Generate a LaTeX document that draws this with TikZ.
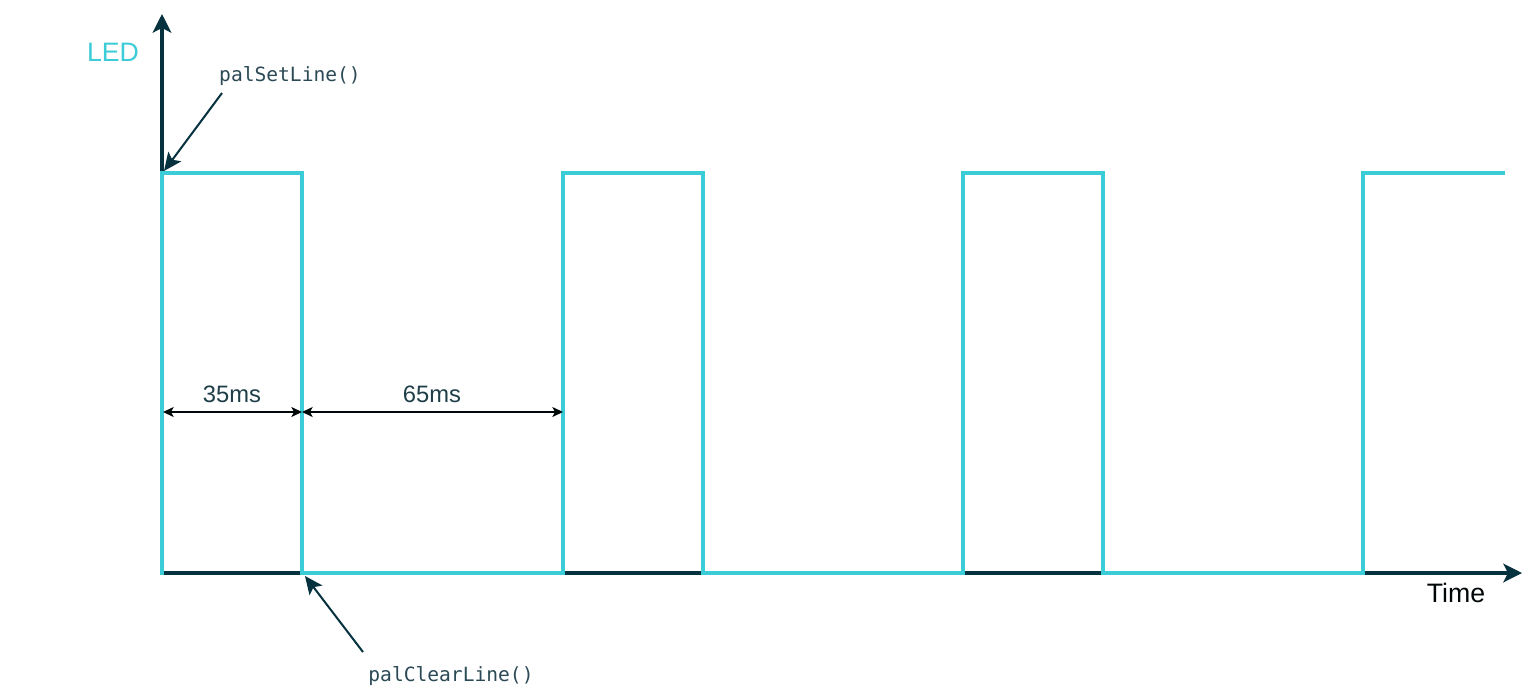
\documentclass[tikz,border=0pt]{standalone}
\usepackage{fontspec}
\setmainfont{Liberation Sans}
\newfontfamily\codefont{DejaVu Sans Mono}
\usetikzlibrary{arrows.meta}
\definecolor{sig}{HTML}{3CCCD8}
\definecolor{axisc}{HTML}{06323F}
\definecolor{txt}{HTML}{1E3E48}
\definecolor{codec}{HTML}{2C4A55}
\tikzset{
  axisline/.style={draw=axisc, line width=2.4pt, -{Stealth[length=14pt,width=14pt,inset=3.5pt]}},
  sigline/.style={draw=sig, line width=2.3pt, line join=miter, line cap=rect},
  dimline/.style={draw=black!85!axisc, line width=1.1pt, {Stealth[length=8pt,width=7.5pt,inset=2pt]}-{Stealth[length=8pt,width=7.5pt,inset=2pt]}},
  callout/.style={draw=axisc, line width=1.5pt, -{Stealth[length=13.5pt,width=12pt,inset=3pt]}},
  dimlabel/.style={inner sep=0pt, text=txt, font=\fontsize{17.8pt}{20pt}\selectfont},
  bigtext/.style={inner sep=0pt, font=\fontsize{20pt}{24pt}\selectfont},
  codetext/.style={inner sep=0pt, text=codec, font=\codefont\fontsize{14.7pt}{17pt}\selectfont}
}
\begin{document}
\begin{tikzpicture}[x=0.75pt,y=-0.75pt]
\fill[white] (0,0) rectangle (1536,694);
\useasboundingbox (0,0) rectangle (1536,694);
% axes
\coordinate (o) at (162,573);
\coordinate (ytip) at (162,14);
\coordinate (xtip) at (1522,573);
\draw[axisline] (o) -- (ytip);
\draw[axisline] (o) -- (xtip);
% signal
\coordinate (s0) at (162,573);
\coordinate (s1) at (162,173);
\coordinate (s2) at (302,173);
\coordinate (s3) at (302,573);
\coordinate (s4) at (563,573);
\coordinate (s5) at (563,173);
\coordinate (s6) at (703,173);
\coordinate (s7) at (703,573);
\coordinate (s8) at (963,573);
\coordinate (s9) at (963,173);
\coordinate (s10) at (1103,173);
\coordinate (s11) at (1103,573);
\coordinate (s12) at (1363,573);
\coordinate (s13) at (1363,173);
\coordinate (s14) at (1503,173);
\draw[sigline] (s0) -- (s1) -- (s2) -- (s3) -- (s4) -- (s5) -- (s6) -- (s7) -- (s8) -- (s9) -- (s10) -- (s11) -- (s12) -- (s13) -- (s14);
% dimension arrows
\coordinate (d0) at (163,412);
\coordinate (d1) at (302,412);
\coordinate (d2) at (563,412);
\draw[dimline] (d0) -- (d1);
\draw[dimline] (d1) -- (d2);
\node[dimlabel] (l35) at (232,394) {35ms};
\node[dimlabel] (l65) at (432,394) {65ms};
% labels
\node[bigtext, text=sig] (led) at (113,52) {LED};
\node[bigtext, text=black!85!axisc] (time) at (1456,593) {Time};
\node[codetext] (set) at (290,76) {palSetLine()};
\node[codetext] (clr) at (451,676) {palClearLine()};
\coordinate (setfrom) at (222,93);
\coordinate (setto) at (164,171);
\coordinate (clrfrom) at (363,652);
\coordinate (clrto) at (305,576);
\draw[callout] (setfrom) -- (setto);
\draw[callout] (clrfrom) -- (clrto);
\end{tikzpicture}
\end{document}
